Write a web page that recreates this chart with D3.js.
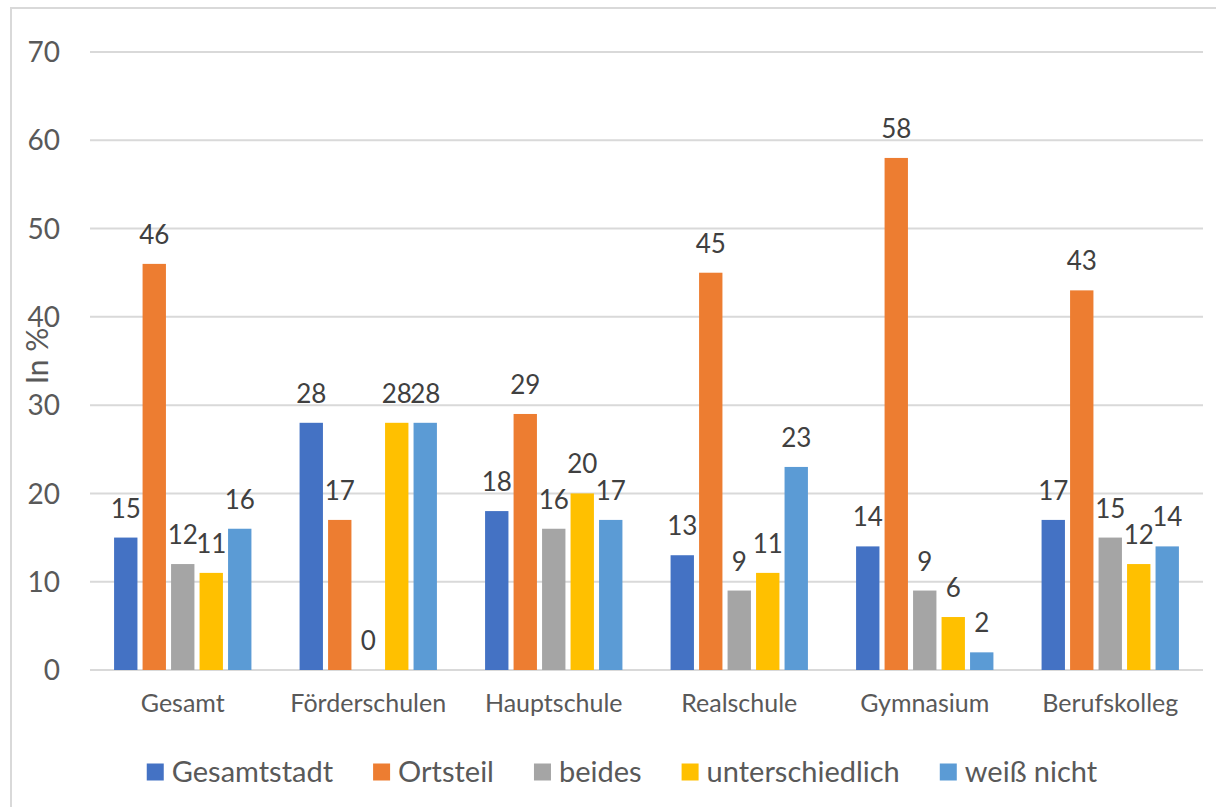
<!DOCTYPE html>
<html>
<head>
<meta charset="utf-8">
<script src="https://cdn.jsdelivr.net/npm/d3@7"></script>
<style>
  html, body { margin: 0; padding: 0; background: #fff; }
  svg { display: block; font-family: Lato, "Open Sans", sans-serif; }
</style>
</head>
<body>
<svg id="chart" width="1216" height="807"></svg>
<script>
const categories = ["Gesamt", "Förderschulen", "Hauptschule", "Realschule", "Gymnasium", "Berufskolleg"];
const seriesNames = ["Gesamtstadt", "Ortsteil", "beides", "unterschiedlich", "weiß nicht"];
const gesamtstadt = [15, 28, 18, 13, 14, 17];
const ortsteil = [46, 17, 29, 45, 58, 43];
const beides = [12, 0, 16, 9, 9, 15];
const unterschiedlich = [11, 28, 20, 11, 6, 12];
const weissNicht = [16, 28, 17, 23, 2, 14];
const yTicks = [0, 10, 20, 30, 40, 50, 60, 70];
const colors = ["#4472C4", "#ED7D31", "#A5A5A5", "#FFC000", "#5B9BD5"];
const yTitle = "In %";

const seriesValues = [gesamtstadt, ortsteil, beides, unterschiedlich, weissNicht];

const svg = d3.select("#chart");
const plot = { left: 90, right: 1203, top: 52, bottom: 670 };

// outer chart border
svg.append("rect")
  .attr("x", 11).attr("y", 8)
  .attr("width", 1300).attr("height", 900)
  .attr("fill", "none").attr("stroke", "#d9d9d9").attr("stroke-width", 2);

const y = d3.scaleLinear().domain([0, 70]).range([plot.bottom, plot.top]);
const x0 = d3.scaleBand().domain(categories).range([plot.left, plot.right]).padding(0);
const x1 = d3.scaleBand().domain(seriesNames).range([0, x0.bandwidth()])
  .paddingInner(0.18).paddingOuter(0.845);

// gridlines
svg.append("g").selectAll("line").data(yTicks).join("line")
  .attr("x1", plot.left).attr("x2", plot.right)
  .attr("y1", d => y(d)).attr("y2", d => y(d))
  .attr("stroke", "#d9d9d9").attr("stroke-width", 2);

// y tick labels
svg.append("g").selectAll("text").data(yTicks).join("text")
  .attr("x", 60).attr("y", d => y(d))
  .attr("dy", "0.36em")
  .attr("text-anchor", "end")
  .attr("fill", "#595959").attr("font-size", 28)
  .text(d => d);

// y title
svg.append("text")
  .attr("transform", `translate(48, ${(plot.top + plot.bottom) / 2 - 5}) rotate(-90)`)
  .attr("text-anchor", "middle")
  .attr("fill", "#595959").attr("font-size", 30)
  .text(yTitle);

// bars
const data = [];
categories.forEach((c, ci) => {
  seriesNames.forEach((s, si) => {
    data.push({ cat: c, ser: s, si, v: seriesValues[si][ci] });
  });
});

svg.append("g").selectAll("rect").data(data).join("rect")
  .attr("x", d => x0(d.cat) + x1(d.ser))
  .attr("y", d => y(d.v))
  .attr("width", x1.bandwidth())
  .attr("height", d => y(0) - y(d.v))
  .attr("fill", d => colors[d.si]);

// value labels
svg.append("g").selectAll("text").data(data).join("text")
  .attr("x", d => x0(d.cat) + x1(d.ser) + x1.bandwidth() / 2)
  .attr("y", d => y(d.v) - 20)
  .attr("text-anchor", "middle")
  .attr("fill", "#404040").attr("font-size", 26)
  .text(d => d.v);

// category labels
svg.append("g").selectAll("text").data(categories).join("text")
  .attr("x", d => x0(d) + x0.bandwidth() / 2)
  .attr("y", 712)
  .attr("text-anchor", "middle")
  .attr("fill", "#595959").attr("font-size", 25)
  .text(d => d);

// legend
const legend = svg.append("g");
const items = legend.selectAll("g").data(seriesNames).join("g");
items.append("rect")
  .attr("width", 17).attr("height", 17)
  .attr("y", -8.5)
  .attr("fill", (d, i) => colors[i]);
items.append("text")
  .attr("x", 25).attr("dy", "0.36em")
  .attr("fill", "#595959").attr("font-size", 29)
  .text(d => d);
let xpos = 0;
items.each(function() {
  const w = d3.select(this).select("text").node().getComputedTextLength();
  d3.select(this).attr("transform", `translate(${xpos},0)`);
  xpos += 25 + w + 40;
});
const legendWidth = xpos - 40;
legend.attr("transform", `translate(${622 - legendWidth / 2}, 772)`);
</script>
</body>
</html>
